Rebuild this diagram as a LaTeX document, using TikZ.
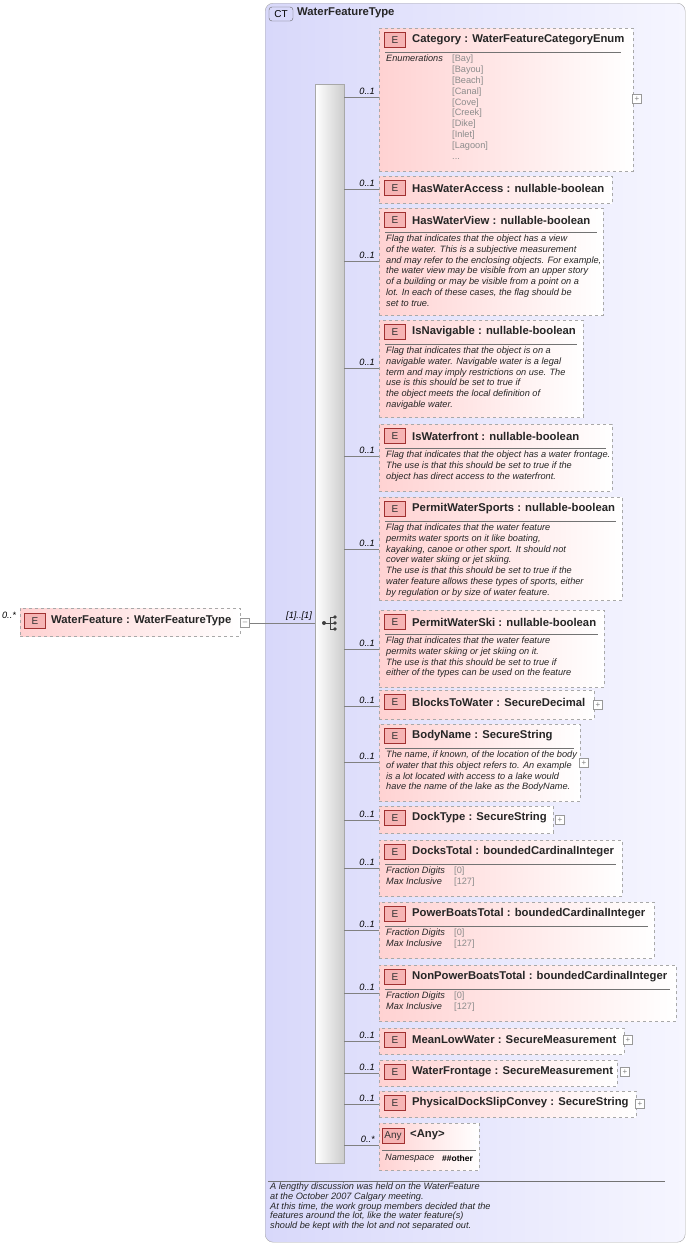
\documentclass[tikz,border=0pt]{standalone}
\usepackage{fontspec}
\setmainfont{Liberation Sans}
\begin{document}
\definecolor{ctfill}{HTML}{D8D8FA}
\definecolor{ctfill2}{HTML}{F6F6FF}
\definecolor{pinkL}{HTML}{FFD2D2}
\definecolor{badgeF}{HTML}{F6B4B4}
\definecolor{badgeD}{HTML}{A03030}
\definecolor{bord}{HTML}{A8A8A8}
\begin{tikzpicture}[x=1pt,y=-1pt,
 box/.style={draw=bord,dashed,left color=pinkL,right color=white,inner sep=0pt,rectangle},
 badge/.style={draw=badgeD,fill=badgeF,font=\fontsize{10}{10}\selectfont,text=black!80,minimum width=21pt,minimum height=15pt,inner sep=0pt},
 ttl/.style={font=\fontsize{11.3}{12}\selectfont\bfseries,text=black!85,inner sep=0pt},
 desc/.style={font=\fontsize{9.2}{10.7}\selectfont\itshape,align=left,inner sep=0pt,text=black!85},
 gry/.style={font=\fontsize{9.2}{10.8}\selectfont,align=left,inner sep=0pt,text=black!45},
 mult/.style={font=\fontsize{9.2}{10}\selectfont\itshape,inner sep=0pt,anchor=south east},
 conn/.style={draw=black!50,line width=0.6pt},
 plus/.style={draw=black!40,fill=white,minimum size=9pt,inner sep=0pt,font=\fontsize{8}{8}\selectfont,text=black!50}]
\useasboundingbox (0,0) rectangle (689,1245);
% container
\node[draw=bord,rounded corners=8pt,left color=ctfill,right color=ctfill2,minimum width=420pt,minimum height=1239pt,anchor=north west,inner sep=0pt] (ct) at (265,3) {};
\node[draw=black!60,fill=ctfill,rounded corners=3pt,font=\fontsize{10}{10}\selectfont,minimum width=24pt,minimum height=14pt,inner sep=0pt] (ctb) at (281,14) {CT};
\node[ttl,anchor=west] (ctt) at (297,13) {WaterFeatureType};
% sequence bar
\node[draw=bord,left color=white,right color=black!20,minimum width=29pt,minimum height=1079pt,anchor=north west,inner sep=0pt] (seq) at (315,84) {};
% sequence icon
\fill[black!75] (324,623) circle (2pt);
\draw[black!75,line width=0.8pt] (324,623) -- (330,623) (330,617) -- (330,629) (330,617) -- (334,617) (330,629) -- (334,629) (330,623)--(334,623);
\fill[black!75] (335,617) circle (1.8pt) (335,623) circle (1.8pt) (335,629) circle (1.8pt);
% root element
\node[box,minimum width=220pt,minimum height=28pt,anchor=north west] (root) at (20,608) {};
\node[badge] (rootE) at (35,621) {E};
\node[ttl,anchor=west] (rootT) at (51,621) {WaterFeature : WaterFeatureType};
\node[font=\fontsize{9.2}{10}\selectfont\itshape,inner sep=0pt] (rootm) at (9,615) {0..*};
\node[plus] (rootp) at (245,623) {--};
\draw[conn] (rootp.east) -- (seq.west |- rootp);
\node[mult] at (312,621) {[1]..[1]};
% element macro
\newcommand\elbox[8]{%
 \node[box,minimum width={(#4-#2)*1pt},minimum height={(#5-#3)*1pt},anchor=north west] (#1) at (#2,#3) {};
 \node[badge] (#1E) at (#2+16,#3+12) {#8};
 \node[ttl,anchor=west] (#1T) at (#2+33,#3+12) {#7};
 \coordinate (#1c) at (#2,#6);
 \draw[conn] (seq.east |- #1c) -- (#1c);
}
\newcommand\mlt[3]{\node[mult] at (375,#2-2) {#3};}
\newcommand\sep[3]{\draw[black!55,line width=0.6pt] (#1+6,#2+24) -- (#3-6,#2+24);}
\newcommand\dsc[3]{\node[desc,anchor=north west] at (#1+7,#2+27) {#3};}
% 1 Category
\elbox{cat}{379}{28}{633}{171}{97}{Category : WaterFeatureCategoryEnum}{E}\mlt{}{97}{0..1}
\sep{379}{28}{627}
\node[desc,anchor=north west] at (386,55) {Enumerations};
\node[gry,anchor=north west] at (452,55) {{[Bay]}\\{[Bayou]}\\{[Beach]}\\{[Canal]}\\{[Cove]}\\{[Creek]}\\{[Dike]}\\{[Inlet]}\\{[Lagoon]}\\...};
\node[plus] at (637,99) {+};
% 2
\elbox{hwa}{379}{176}{612}{203}{189}{HasWaterAccess : nullable-boolean}{E}\mlt{}{189}{0..1}
% 3
\elbox{hwv}{379}{208}{603}{315}{261}{HasWaterView : nullable-boolean}{E}\mlt{}{261}{0..1}
\sep{379}{208}{603}
\dsc{379}{208}{Flag that indicates that the object has a view\\of the water. This is a subjective measurement\\and may refer to the enclosing objects. For example,\\the water view may be visible from an upper story\\of a building or may be visible from a point on a\\lot. In each of these cases, the flag should be\\set to true.}
% 4
\elbox{nav}{379}{320}{583}{417}{368}{IsNavigable : nullable-boolean}{E}\mlt{}{368}{0..1}
\sep{379}{320}{583}
\dsc{379}{320}{Flag that indicates that the object is on a\\navigable water. Navigable water is a legal\\term and may imply restrictions on use. The\\use is this should be set to true if\\the object meets the local definition of\\navigable water.}
% 5
\elbox{wf}{379}{424}{612}{491}{456}{IsWaterfront : nullable-boolean}{E}\mlt{}{456}{0..1}
\sep{379}{424}{612}
\dsc{379}{424}{Flag that indicates that the object has a water frontage.\\The use is that this should be set to true if the\\object has direct access to the waterfront.}
% 6
\elbox{pws}{379}{497}{622}{600}{549}{PermitWaterSports : nullable-boolean}{E}\mlt{}{549}{0..1}
\sep{379}{497}{622}
\dsc{379}{497}{Flag that indicates that the water feature\\permits water sports on it like boating,\\kayaking, canoe or other sport. It should not\\cover water skiing or jet skiing.\\The use is that this should be set to true if the\\water feature allows these types of sports, either\\by regulation or by size of water feature.}
% 7
\elbox{pwk}{379}{610}{604}{687}{649}{PermitWaterSki : nullable-boolean}{E}\mlt{}{649}{0..1}
\sep{379}{610}{604}
\dsc{379}{610}{Flag that indicates that the water feature\\permits water skiing or jet skiing on it.\\The use is that this should be set to true if\\either of the types can be used on the feature}
% 8
\elbox{btw}{379}{690}{594}{719}{706}{BlocksToWater : SecureDecimal}{E}\mlt{}{706}{0..1}
\node[plus] at (598,705) {+};
% 9
\elbox{bn}{379}{724}{580}{801}{762}{BodyName : SecureString}{E}\mlt{}{762}{0..1}
\sep{379}{724}{580}
\dsc{379}{724}{The name, if known, of the location of the body\\of water that this object refers to. An example\\is a lot located with access to a lake would\\have the name of the lake as the BodyName.}
\node[plus] at (584,763) {+};
% 10
\elbox{dt}{379}{806}{553}{833}{820}{DockType : SecureString}{E}\mlt{}{820}{0..1}
\node[plus] at (560,820) {+};
% 11-13
\newcommand\facet[2]{\node[desc,anchor=north west] at (386,#1+27) {Fraction Digits\\Max Inclusive};
 \node[gry,anchor=north west] at (454,#1+27) {{[0]}\\{[127]}};\sep{379}{#1}{#2}}
\elbox{dto}{379}{840}{622}{896}{868}{DocksTotal : boundedCardinalInteger}{E}\mlt{}{868}{0..1}\facet{840}{622}
\elbox{pbt}{379}{902}{654}{958}{930}{PowerBoatsTotal : boundedCardinalInteger}{E}\mlt{}{930}{0..1}\facet{902}{654}
\elbox{npb}{379}{965}{676}{1021}{993}{NonPowerBoatsTotal : boundedCardinalInteger}{E}\mlt{}{993}{0..1}\facet{965}{676}
% 14-16
\elbox{mlw}{379}{1028}{624}{1054}{1041}{MeanLowWater : SecureMeasurement}{E}\mlt{}{1041}{0..1}
\node[plus] at (628,1040) {+};
\elbox{wfr}{379}{1060}{617}{1086}{1073}{WaterFrontage : SecureMeasurement}{E}\mlt{}{1073}{0..1}
\node[plus] at (625,1072) {+};
\elbox{pds}{379}{1091}{636}{1117}{1104}{PhysicalDockSlipConvey : SecureString}{E}\mlt{}{1104}{0..1}
\node[plus] at (640,1104) {+};
% Any
\node[box,minimum width=100pt,minimum height=47pt,anchor=north west] (any) at (379,1123) {};
\node[badge,minimum width=22pt] (anyB) at (393,1136) {Any};
\node[ttl,anchor=west] (anyT) at (410,1135) {<Any>};
\coordinate (anyc) at (379,1145);
\draw[conn] (seq.east |- anyc) -- (anyc);
\node[mult] at (375,1143) {0..*};
\draw[black!55,line width=0.6pt] (382,1150) -- (476,1150);
\node[desc,anchor=west] at (385,1158) {Namespace};
\node[font=\fontsize{8.5}{9}\selectfont\bfseries,inner sep=0pt,anchor=west] at (442,1158) {\#\#other};
% footer
\draw[black!55,line width=0.6pt] (268,1181) -- (665,1181);
\node[desc,anchor=north west,font=\fontsize{9.2}{9.7}\selectfont\itshape] (foot) at (270,1183) {A lengthy discussion was held on the WaterFeature\\at the October 2007 Calgary meeting.\\At this time, the work group members decided that the\\features around the lot, like the water feature(s)\\should be kept with the lot and not separated out.};
\end{tikzpicture}
\end{document}
